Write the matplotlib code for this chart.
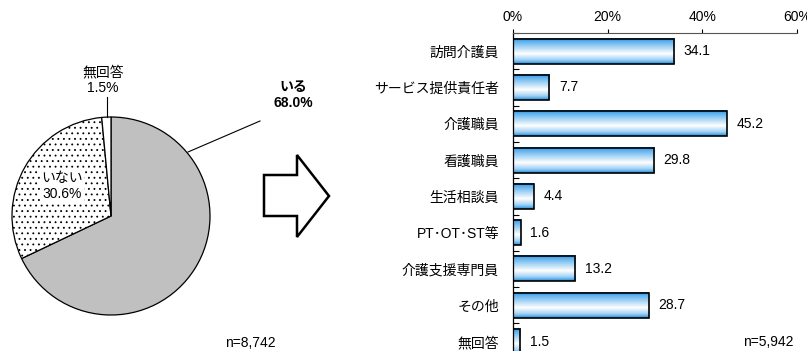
import numpy as np
import matplotlib
matplotlib.use('Agg')
import matplotlib.pyplot as plt
from matplotlib.colors import LinearSegmentedColormap
from matplotlib.patches import Polygon

plt.rcParams['font.family'] = ['Liberation Sans', 'Noto Sans CJK JP', 'DejaVu Sans']
plt.rcParams['hatch.linewidth'] = 0.6
plt.rcParams['hatch.color'] = '#444444'

# pie: share of respondents
pie_labels = ['いる', 'いない', '無回答']
pie_values = [68.0, 30.6, 1.5]
pie_n = 'n=8,742'

# bars: occupations (%)
bar_labels = ['訪問介護員', 'サービス提供責任者', '介護職員', '看護職員', '生活相談員',
              'PT･OT･ST等', '介護支援専門員', 'その他', '無回答']
bar_values = [34.1, 7.7, 45.2, 29.8, 4.4, 1.6, 13.2, 28.7, 1.5]
bar_n = 'n=5,942'
x_ticks = [0, 20, 40, 60]

W, H = 807, 351
fig = plt.figure(figsize=(W / 100, H / 100), dpi=100)


def px_axes(left, top, width, height):
    return fig.add_axes([left / W, 1 - (top + height) / H, width / W, height / H])


# ---- pie ----
ax_pie = px_axes(12, 117, 198, 198)
wedges, _ = ax_pie.pie(pie_values, startangle=90, counterclock=False,
                       colors=['#c0c0c0', 'white', 'white'],
                       wedgeprops=dict(edgecolor='black', linewidth=0.9))
wedges[1].set_hatch('...')
ax_pie.set_xlim(-1, 1)
ax_pie.set_ylim(-1, 1)
ax_pie.set_aspect('equal')
ax_pie.axis('off')

fs = 10
fig.text(293 / W, 1 - 95 / H, f'{pie_labels[0]}\n{pie_values[0]:.1f}%', ha='center', va='center',
         fontsize=fs, fontweight='bold', linespacing=1.2)
fig.text(62 / W, 1 - 186 / H, f'{pie_labels[1]}\n{pie_values[1]:.1f}%', ha='center', va='center',
         fontsize=fs, linespacing=1.2,
         bbox=dict(facecolor='white', edgecolor='none', pad=1))
fig.text(103 / W, 1 - 80 / H, f'{pie_labels[2]}\n{pie_values[2]:.1f}%', ha='center', va='center',
         fontsize=fs, linespacing=1.2)
fig.add_artist(plt.Line2D([188 / W, 260 / W], [1 - 152 / H, 1 - 121 / H], color='black', lw=0.8))
fig.add_artist(plt.Line2D([107 / W, 107 / W], [1 - 97 / H, 1 - 117 / H], color='black', lw=0.8))
fig.text(250 / W, 1 - 343 / H, pie_n, ha='center', va='center', fontsize=fs)

# ---- block arrow between the two charts ----
arrow_px = [(264, 175), (297, 175), (297, 155), (329, 196), (297, 237), (297, 216), (264, 216)]
fig.add_artist(Polygon([(x / W, 1 - y / H) for x, y in arrow_px], closed=True,
                       facecolor='white', edgecolor='black', lw=1.8,
                       transform=fig.transFigure))

# ---- bar chart ----
ax = px_axes(513, 33, 284, 9 * 36.3)
n = len(bar_values)
ypos = np.arange(n)
bh = 0.69
grad_cmap = LinearSegmentedColormap.from_list(
    'bar_grad', [(0.0, '#1f8fe0'), (0.12, '#5cb0ee'), (0.6, '#ffffff'),
                 (0.85, '#9fd0f5'), (1.0, '#1f8fe0')])
grad = np.linspace(0, 1, 64).reshape(-1, 1)
for y, v in zip(ypos, bar_values):
    ax.imshow(grad, cmap=grad_cmap, aspect='auto', interpolation='bilinear',
              extent=[0, v, y + bh / 2, y - bh / 2], zorder=2)
ax.barh(ypos, bar_values, height=bh, fill=False, edgecolor='black', linewidth=1.2, zorder=3)
for y, v in zip(ypos, bar_values):
    ax.text(v + 2.0, y, f'{v:.1f}', va='center', ha='left', fontsize=fs)

ax.set_xlim(0, 60)
ax.set_ylim(n - 0.5, -0.5)
ax.xaxis.tick_top()
ax.set_xticks(x_ticks)
ax.set_xticklabels([f'{t}%' for t in x_ticks], fontsize=fs)
ax.tick_params(axis='x', direction='out', length=3, width=0.8, pad=3.5, colors='black')
ax.set_yticks(ypos)
ax.set_yticklabels(bar_labels, fontsize=fs)
ax.tick_params(axis='y', which='major', length=0, pad=10)
ax.set_yticks(np.arange(n) - 0.5, minor=True)
ax.tick_params(axis='y', which='minor', direction='in', length=4, width=0.8)
for side in ['right', 'bottom']:
    ax.spines[side].set_visible(False)
ax.spines['top'].set_color('#555555')
ax.spines['left'].set_linewidth(0.9)

fig.text(768 / W, 1 - 342 / H, bar_n, ha='center', va='center', fontsize=fs)

fig.savefig('out.png', dpi=100)
